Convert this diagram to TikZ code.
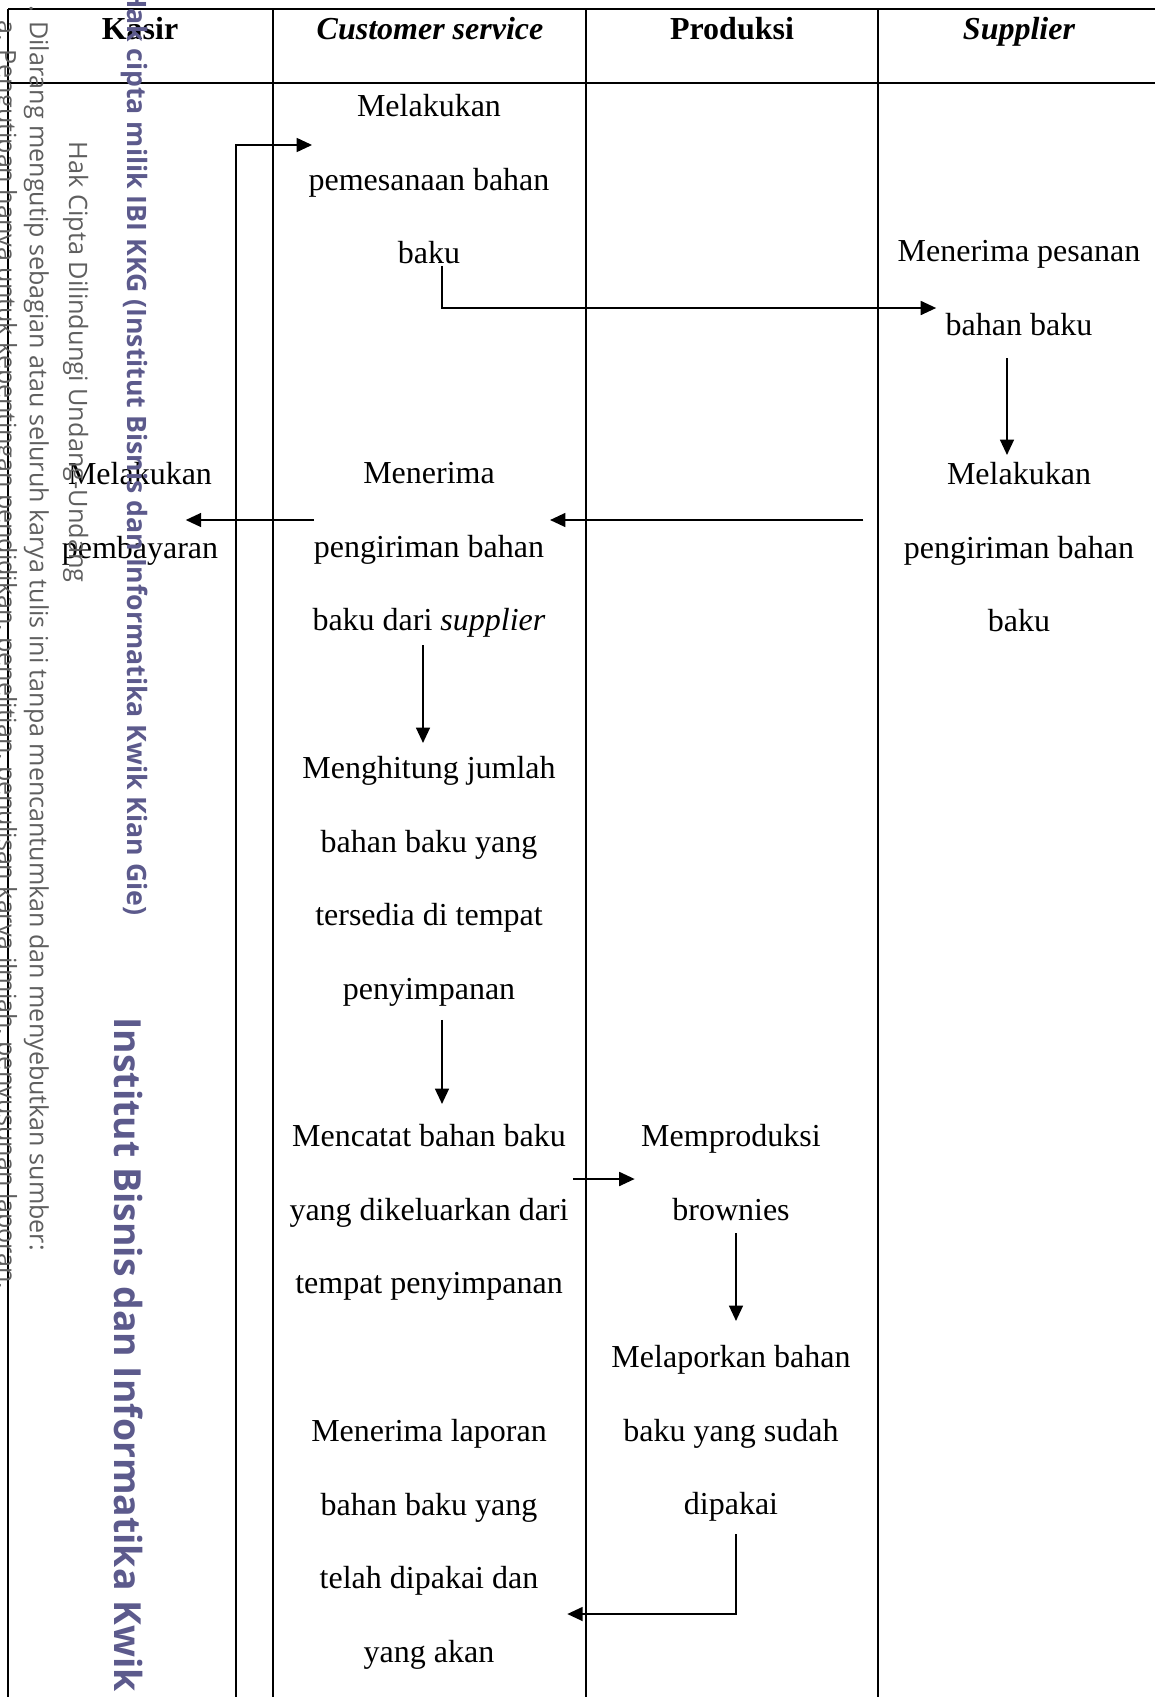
\documentclass[tikz,border=0pt]{standalone}
\usepackage{fontspec}
\setmainfont{Liberation Serif}
\newfontfamily\wmfont{Open Sans}
\usetikzlibrary{arrows.meta}

\definecolor{wmungu}{RGB}{92,90,140}
\definecolor{wmabu}{RGB}{95,95,95}

\begin{document}
\begin{tikzpicture}[x=0.375pt, y=-0.375pt,
    garis/.style={line width=0.9pt},
    alur/.style={line width=0.8pt, -{Triangle[length=5.8pt,width=5.2pt]}},
    langkah/.style={anchor=north, inner sep=0pt, align=center, font=\fontsize{12}{27.6}\selectfont},
    kepala/.style={anchor=north, inner sep=0pt, font=\fontsize{12}{14}\selectfont\bfseries},
    tanda/.style={rotate=-90, anchor=base west, inner sep=0pt}]
        \useasboundingbox (0,0) rectangle (1155,1697);

        % Tabel
        \draw[garis] (8,9) -- (1155,9);
        \draw[garis] (8,83) -- (1155,83);
        \foreach \kol in {8,273,586,878}
          \draw[garis] (\kol,9) -- (\kol,1697);

        % Judul kolom
        \node[kepala] (kasir) at (140,17) {Kasir};
        \node[kepala] (cs) at (430,17) {\itshape Customer service};
        \node[kepala] (prod) at (732,17) {Produksi};
        \node[kepala] (sup) at (1019,17) {\itshape Supplier};

        % Langkah
        \node[langkah] (pesan) at (429,94) {Melakukan\\pemesanaan bahan\\baku};
        \node[langkah] (terima) at (1019,240) {Menerima pesanan\\bahan baku};
        \node[langkah] (kirim) at (1019,462) {Melakukan\\pengiriman bahan\\baku};
        \node[langkah] (terimaBahan) at (429,462) {Menerima\\pengiriman bahan\\baku dari \textit{supplier}};
        \node[langkah] (bayar) at (140,462) {Melakukan\\pembayaran};
        \node[langkah] (hitung) at (429,756) {Menghitung jumlah\\bahan baku yang\\tersedia di tempat\\penyimpanan};
        \node[langkah] (catat) at (429,1124) {Mencatat bahan baku\\yang dikeluarkan dari\\tempat penyimpanan};
        \node[langkah] (produksi) at (731,1124) {Memproduksi\\brownies};
        \node[langkah] (lapor) at (731,1345) {Melaporkan bahan\\baku yang sudah\\dipakai};
        \node[langkah] (laporan) at (429,1419) {Menerima laporan\\bahan baku yang\\telah dipakai dan\\yang akan};
        \coordinate (kasirBawah) at (236,1697);

        % Alur
        \draw[alur] ([shift={(13,1)}]pesan.south) |- ([shift={(39,68)}]terima.north west);
        \draw[alur] ([shift={(-12,22)}]terima.south) -- ([shift={(-12,-7)}]kirim.north);
        \draw[alur] ([shift={(-40,58)}]kirim.north west) -- ([shift={(4,58)}]terimaBahan.north east);
        \draw[alur] ([shift={(2,58)}]terimaBahan.north west) -- ([shift={(-33,58)}]bayar.north east);
        \draw[alur] ([shift={(-6,7)}]terimaBahan.south) -- ([shift={(-6,-13)}]hitung.north);
        \draw[alur] ([shift={(13,13)}]hitung.south) -- ([shift={(13,-20)}]catat.north);
        \draw[alur] ([shift={(4,55)}]catat.north east) -- ([shift={(-6,55)}]produksi.north west);
        \draw[alur] ([shift={(5,12)}]produksi.south) -- ([shift={(5,-24)}]lapor.north);
        \draw[alur] ([shift={(5,12)}]lapor.south) |- ([shift={(20,195)}]laporan.north east);
        \draw[alur] (kasirBawah) |- ([shift={(4,51)}]pesan.north west);

        % Tanda air
        \node[tanda, text=wmabu, font=\wmfont\fontsize{9.4}{11}\selectfont] (wmA) at (-2,20)
          {a. Pengutipan hanya untuk kepentingan pendidikan, penelitian, penulisan karya ilmiah, penyusunan laporan,};
        \node[tanda, text=wmabu, font=\wmfont\fontsize{9.4}{11}\selectfont] (wmSatu) at (30,-9)
          {1. Dilarang mengutip sebagian atau seluruh karya tulis ini tanpa mencantumkan dan menyebutkan sumber:};
        \node[tanda, text=wmabu, font=\wmfont\fontsize{9.5}{11}\selectfont] (wmHak) at (69,141)
          {Hak Cipta Dilindungi Undang-Undang};
        \node[tanda, text=wmungu, font=\wmfont\bfseries\fontsize{10}{12}\selectfont] (wmMilik) at (127,-12)
          {Hak cipta milik IBI KKG (Institut Bisnis dan Informatika Kwik Kian Gie)};
        \node[tanda, text=wmungu, font=\wmfont\bfseries\fontsize{14}{16}\selectfont] (wmIbi) at (114,1017)
          {Institut Bisnis dan Informatika Kwik};
      \end{tikzpicture}
\end{document}
